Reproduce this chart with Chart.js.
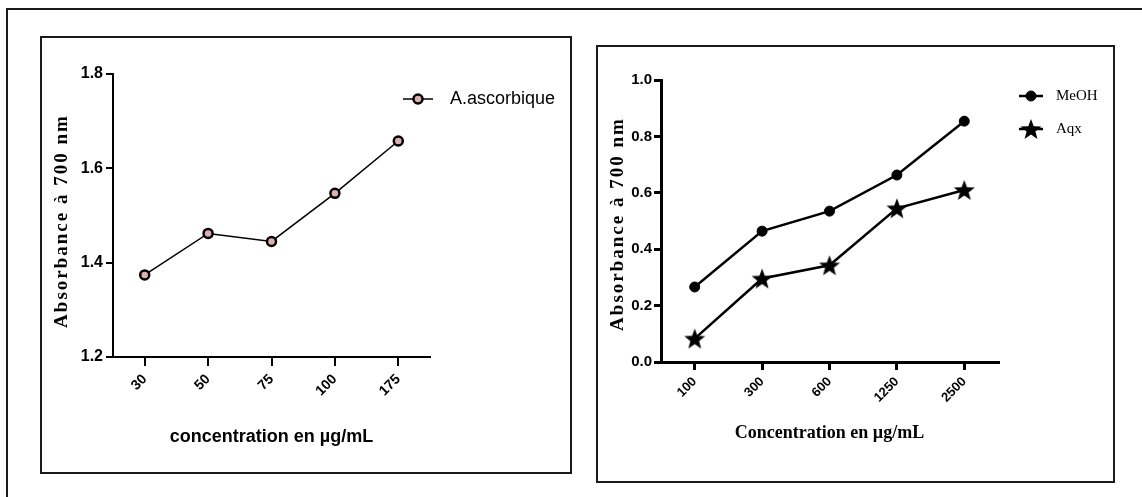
<!DOCTYPE html>
<html>
<head>
<meta charset="utf-8">
<script src="https://cdn.jsdelivr.net/npm/chart.js@4.4.1/dist/chart.umd.min.js"></script>
<style>
html, body { margin: 0; padding: 0; background: #fff; overflow: hidden; width: 1142px; height: 497px; }
.frame { position: absolute; border: 2px solid #1a1a1a; box-sizing: border-box; }
.panel { position: absolute; }
</style>
</head>
<body>
<div class="frame" style="left:6px;top:8px;width:1200px;height:600px"></div>
<div class="frame" style="left:40px;top:36px;width:532px;height:438px"></div>
<div class="frame" style="left:596px;top:45px;width:519px;height:438px"></div>
<div class="panel" style="left:41px;top:37px;width:530px;height:436px"><canvas id="left"></canvas></div>
<div class="panel" style="left:597px;top:46px;width:517px;height:436px"><canvas id="right"></canvas></div>

<script>
// left panel: ascorbic acid reference
const leftLabels = ['30', '50', '75', '100', '175'];
const ascorbique = [1.374, 1.462, 1.445, 1.547, 1.658];

// right panel: extracts
const rightLabels = ['100', '300', '600', '1250', '2500'];
const meoh = [0.266, 0.464, 0.535, 0.663, 0.854];
const aqx = [0.083, 0.296, 0.343, 0.545, 0.610];

const yTitle = 'Absorbance à 700 nm';

const sans = "'Liberation Sans', Arial, sans-serif";
const serif = "'Liberation Serif', 'Times New Roman', serif";

Chart.defaults.color = '#000';
Chart.defaults.animation = false;

// filled five-point star used as point style
function starImage(size) {
  const c = document.createElement('canvas');
  c.width = c.height = size;
  const g = c.getContext('2d');
  const r = size / 2, ri = r * 0.42;
  g.beginPath();
  for (let i = 0; i < 10; i++) {
    const a = -Math.PI / 2 + i * Math.PI / 5;
    const rr = i % 2 ? ri : r;
    g.lineTo(r + rr * Math.cos(a), r + 1 + rr * Math.sin(a));
  }
  g.closePath();
  g.fillStyle = '#000';
  g.fill();
  return c;
}
const star = starImage(22);

// legend drawn beside the plot, line + marker + label
const sideLegend = {
  id: 'sideLegend',
  afterDraw(chart, args, opts) {
    const ctx = chart.ctx;
    chart.data.datasets.forEach((ds, i) => {
      const y = opts.y + i * opts.gap;
      ctx.save();
      ctx.strokeStyle = ds.borderColor;
      ctx.lineWidth = ds.borderWidth;
      ctx.beginPath();
      ctx.moveTo(opts.x, y);
      ctx.lineTo(opts.x + opts.len, y);
      ctx.stroke();
      ctx.fillStyle = ds.pointBackgroundColor;
      ctx.strokeStyle = ds.pointBorderColor;
      ctx.lineWidth = ds.pointBorderWidth;
      Chart.helpers.drawPoint(ctx, {
        pointStyle: ds.pointStyle, radius: ds.pointRadius,
        borderWidth: ds.pointBorderWidth, rotation: 0
      }, opts.x + opts.len / 2, y);
      ctx.fillStyle = '#000';
      ctx.font = opts.font;
      ctx.textAlign = 'left';
      ctx.textBaseline = 'middle';
      ctx.fillText(ds.label, opts.textX, y);
      ctx.restore();
    });
  }
};

// spaced-out vertical axis title
const spacedTitle = {
  id: 'spacedTitle',
  afterDraw(chart, args, opts) {
    const ctx = chart.ctx;
    ctx.save();
    ctx.translate(opts.x, opts.y);
    ctx.rotate(-Math.PI / 2);
    ctx.font = opts.font;
    ctx.letterSpacing = opts.spacing + 'px';
    ctx.fillStyle = '#000';
    ctx.textAlign = 'center';
    ctx.textBaseline = 'middle';
    ctx.fillText(opts.text, 0, 0);
    ctx.restore();
  }
};

new Chart(document.getElementById('left'), {
  type: 'line',
  data: {
    labels: leftLabels,
    datasets: [{
      label: 'A.ascorbique',
      data: ascorbique,
      borderColor: '#000',
      borderWidth: 1.5,
      pointStyle: 'circle',
      pointRadius: 4.5,
      pointBorderWidth: 2.5,
      pointBackgroundColor: '#dcb0b0',
      pointBorderColor: '#000'
    }]
  },
  options: {
    responsive: true,
    maintainAspectRatio: false,
    layout: { padding: { left: 0, top: 37, right: 141, bottom: 0 } },
    plugins: {
      legend: { display: false },
      tooltip: { enabled: false },
      sideLegend: { x: 362, len: 30, y: 62, gap: 30, textX: 409, font: '18px ' + sans },
      spacedTitle: { text: yTitle, x: 21.5, y: 184, font: 'bold 19px ' + serif, spacing: 2 }
    },
    scales: {
      x: {
        offset: true,
        afterFit: s => { s.height = 116; },
        border: { color: '#000', width: 2 },
        grid: { display: true, drawOnChartArea: false, offset: false, color: '#000', lineWidth: 2, tickLength: 9 },
        ticks: { autoSkip: false, minRotation: 45, maxRotation: 45, padding: 5, font: { family: sans, size: 14, weight: 'bold' } },
        title: { display: true, text: 'concentration en µg/mL', padding: { bottom: 25 }, font: { family: sans, size: 18, weight: 'bold' } }
      },
      y: {
        min: 1.2,
        max: 1.8,
        afterFit: s => { s.width = 72; },
        border: { color: '#000', width: 2 },
        grid: { display: true, drawOnChartArea: false, color: '#000', lineWidth: 2, tickLength: 7 },
        ticks: { stepSize: 0.2, padding: 3, callback: v => v.toFixed(1), font: { family: sans, size: 16, weight: 'bold' } }
      }
    }
  },
  plugins: [sideLegend, spacedTitle]
});

new Chart(document.getElementById('right'), {
  type: 'line',
  data: {
    labels: rightLabels,
    datasets: [{
      label: 'MeOH',
      data: meoh,
      borderColor: '#000',
      borderWidth: 2.5,
      pointStyle: 'circle',
      pointRadius: 5,
      pointBorderWidth: 1,
      pointBackgroundColor: '#000',
      pointBorderColor: '#000'
    }, {
      label: 'Aqx',
      data: aqx,
      borderColor: '#000',
      borderWidth: 2.5,
      pointStyle: star,
      pointRadius: 10,
      pointBorderWidth: 0,
      pointBackgroundColor: '#000',
      pointBorderColor: '#000'
    }]
  },
  options: {
    responsive: true,
    maintainAspectRatio: false,
    layout: { padding: { left: 0, top: 34, right: 116, bottom: 0 } },
    plugins: {
      legend: { display: false },
      tooltip: { enabled: false },
      sideLegend: { x: 422, len: 24, y: 50, gap: 33, textX: 459, font: '15px ' + serif },
      spacedTitle: { text: yTitle, x: 21, y: 178, font: 'bold 19px ' + serif, spacing: 2 }
    },
    scales: {
      x: {
        offset: true,
        afterFit: s => { s.height = 120; },
        border: { color: '#000', width: 3 },
        grid: { display: true, drawOnChartArea: false, offset: false, color: '#000', lineWidth: 3, tickLength: 8 },
        ticks: { autoSkip: false, minRotation: 45, maxRotation: 45, padding: 4, font: { family: sans, size: 13, weight: 'bold' } },
        title: { display: true, text: 'Concentration en µg/mL', padding: { bottom: 38 }, font: { family: serif, size: 18, weight: 'bold' } }
      },
      y: {
        min: 0,
        max: 1.0,
        afterFit: s => { s.width = 64; },
        border: { color: '#000', width: 3 },
        grid: { display: true, drawOnChartArea: false, color: '#000', lineWidth: 3, tickLength: 7 },
        ticks: { stepSize: 0.2, padding: 2, callback: v => v.toFixed(1), font: { family: sans, size: 15, weight: 'bold' } }
      }
    }
  },
  plugins: [sideLegend, spacedTitle]
});
</script>
</body>
</html>
